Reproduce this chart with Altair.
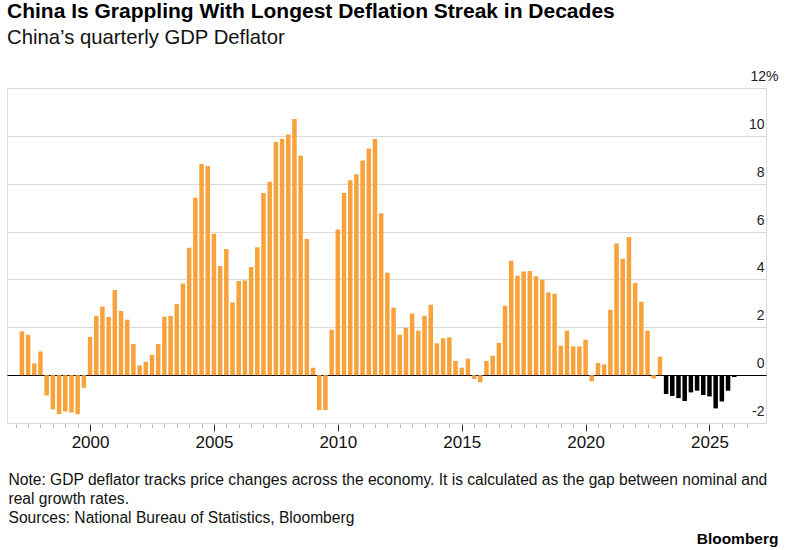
import altair as alt
import pandas as pd

# China GDP deflator, % y/y, quarterly from 1997Q1 to 2025Q4
FIRST_YEAR = 1997
deflator = [
    1.83, 1.69, 0.49, 0.99,      # 1997
    -0.85, -1.43, -1.63, -1.52,  # 1998
    -1.56, -1.63, -0.53, 1.60,   # 1999
    2.48, 2.87, 2.43, 3.56,      # 2000
    2.68, 2.32, 1.30, 0.41,      # 2001
    0.56, 0.85, 1.30, 2.44,      # 2002
    2.47, 2.97, 3.83, 5.32,      # 2003
    7.41, 8.82, 8.74, 5.91,      # 2004
    4.56, 5.27, 3.04, 3.93,      # 2005
    3.96, 4.52, 5.34, 7.61,      # 2006
    8.08, 9.74, 9.87, 10.06,     # 2007
    10.70, 9.17, 5.69, 0.31,     # 2008
    -1.46, -1.46, 1.90, 6.09,    # 2009
    7.61, 8.14, 8.40, 8.97,      # 2010
    9.47, 9.87, 6.77, 4.28,      # 2011
    2.82, 1.69, 1.98, 2.57,      # 2012
    1.86, 2.48, 2.94, 1.33,      # 2013
    1.54, 1.58, 0.59, 0.31,      # 2014
    0.69, -0.16, -0.30, 0.59,    # 2015
    0.81, 1.35, 2.90, 4.78,      # 2016
    4.15, 4.33, 4.35, 4.13,      # 2017
    3.99, 3.46, 3.40, 1.23,      # 2018
    1.86, 1.20, 1.20, 1.48,      # 2019
    -0.26, 0.51, 0.45, 2.73,     # 2020
    5.50, 4.86, 5.77, 3.85,      # 2021
    3.07, 1.86, -0.14, 0.77,     # 2022
    -0.79, -0.87, -0.96, -1.08,  # 2023
    -0.72, -0.65, -0.83, -0.89,  # 2024
    -1.39, -1.10, -0.65, -0.08,  # 2025
]
STREAK_START_YEAR = 2023  # current deflation streak, drawn in black

years = [FIRST_YEAR + i // 4 for i in range(len(deflator))]
qtrs = [i % 4 + 1 for i in range(len(deflator))]
phase = ["Streak" if y >= STREAK_START_YEAR else "Earlier" for y in years]

y_ticks = [-2, 0, 2, 4, 6, 8, 10, 12]
x_ticks = [FIRST_YEAR + 0.5 * k for k in range(60)]

ORANGE = "#F7A23B"
FONT = "Liberation Sans"

df = pd.DataFrame({"year": years, "q": qtrs, "value": deflator, "phase": phase})

notes = [
    "Note: GDP deflator tracks price changes across the economy. It is calculated as the gap between nominal and",
    "real growth rates.",
    "Sources: National Bureau of Statistics, Bloomberg",
]

x_axis = alt.Axis(
    values=x_ticks,
    grid=False,
    domain=False,
    labelExpr="datum.value % 5 === 0 ? toString(datum.value) : ''",
    labelFont=FONT,
    labelFontSize=17,
    labelColor="#111",
    labelPadding=3,
    labelFlush=False,
    labelOverlap=False,
    tickSize={"condition": {"test": "datum.value % 5 === 0", "value": 7}, "value": 3.5},
    tickColor={"condition": {"test": "datum.value % 5 === 0", "value": "#333"}, "value": "#b5b5b5"},
    tickWidth=1,
    offset=1,
    title=notes,
    titleFont=FONT,
    titleFontSize=15.6,
    titleFontWeight="normal",
    titleColor="#111",
    titleAlign="left",
    titleBaseline="alphabetic",
    titleAnchor="start",
    titleLineHeight=19,
    titleX=1,
    titleY=60,
)

y_axis = alt.Axis(
    orient="right",
    values=y_ticks,
    domain=False,
    ticks=False,
    tickSize=0,
    grid=True,
    gridColor={"condition": {"test": "datum.value === 0", "value": "#000"}, "value": "#d9d9d9"},
    gridWidth=1,
    labelExpr="datum.value === 12 ? '12%' : toString(datum.value)",
    labelAlign={"condition": {"test": "datum.value === 12", "value": "center"}, "value": "right"},
    labelBaseline="alphabetic",
    labelOffset=-7.5,
    labelPadding=-2,
    labelFont=FONT,
    labelFontSize=14,
    labelColor="#222",
    title="Bloomberg",
    titleFont=FONT,
    titleFontSize=15.5,
    titleFontWeight="bold",
    titleColor="#000",
    titleAngle=0,
    titleAlign="right",
    titleBaseline="alphabetic",
    titleX=12,
    titleY=455,
)

chart = (
    alt.Chart(df)
    .transform_calculate(t="datum.year + datum.q / 4")
    .mark_bar(width=4.5, orient="vertical")
    .encode(
        x=alt.X("t:Q", scale=alt.Scale(domain=[1996.85, 2027.08], nice=False, zero=False), axis=x_axis),
        y=alt.Y("value:Q", scale=alt.Scale(domain=[-2, 12], nice=False), axis=y_axis),
        y2=alt.datum(0),
        color=alt.Color(
            "phase:N",
            scale=alt.Scale(domain=["Earlier", "Streak"], range=[ORANGE, "#000000"]),
            legend=None,
        ),
    )
    .properties(
        width=759,
        height=335,
        autosize=alt.AutoSizeParams(type="none"),
        padding={"left": 7, "top": 88, "right": 35, "bottom": 127},
        title=alt.TitleParams(
            text="China Is Grappling With Longest Deflation Streak in Decades",
            subtitle="China’s quarterly GDP Deflator",
            anchor="start",
            frame="group",
            font=FONT,
            fontSize=21,
            fontWeight="bold",
            color="#000",
            subtitleFont=FONT,
            subtitleFontSize=20.3,
            subtitleColor="#111",
            subtitlePadding=6,
            offset=21,
        ),
    )
    .configure_view(stroke=None)
    .configure(background="white")
)

chart.save("out.html", embed_options={"renderer": "svg", "actions": False})
